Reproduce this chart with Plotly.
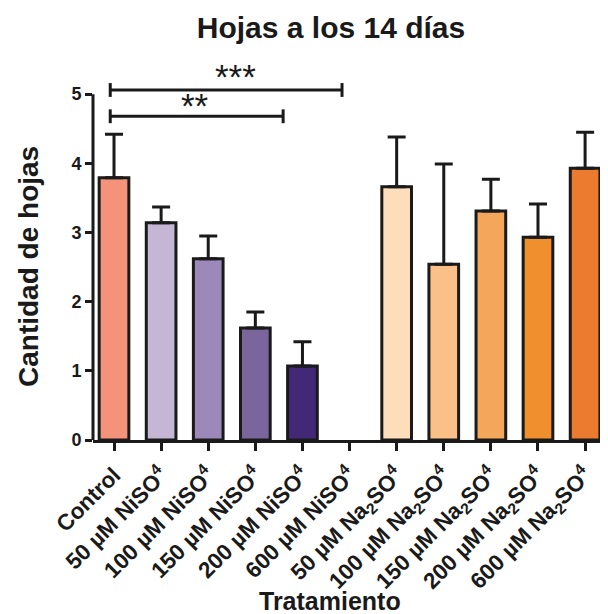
import plotly.graph_objects as go

categories = ["Control", "50 µM NiSO<sup>4</sup>", "100 µM NiSO<sup>4</sup>", "150 µM NiSO<sup>4</sup>",
              "200 µM NiSO<sup>4</sup>", "600 µM NiSO<sup>4</sup>",
              "50 µM Na<sub>2</sub>SO<sup>4</sup>", "100 µM Na<sub>2</sub>SO<sup>4</sup>",
              "150 µM Na<sub>2</sub>SO<sup>4</sup>", "200 µM Na<sub>2</sub>SO<sup>4</sup>",
              "600 µM Na<sub>2</sub>SO<sup>4</sup>"]
means = [3.79, 3.14, 2.62, 1.62, 1.07, 0.0, 3.66, 2.54, 3.31, 2.93, 3.93]
sem = [0.63, 0.23, 0.33, 0.23, 0.35, 0.0, 0.72, 1.45, 0.46, 0.48, 0.52]
colors = ["#F4937A", "#C5B6D6", "#9C89B9", "#7A669D", "#432877", "#FFFFFF",
          "#FEDDBA", "#FAC087", "#F4A65B", "#F08F2E", "#EC7A2F"]
y_ticks = [0, 1, 2, 3, 4, 5]

# significance brackets: (start x, end x, y level, label)
brackets = [(-0.08, 4.84, 5.06, "***"), (-0.08, 3.59, 4.68, "**")]
star_x = [2.57, 1.72]
star_y = [5.25, 4.83]

ink = "#1a1a1a"
font = "Arial, Liberation Sans, sans-serif"
x = list(range(len(categories)))
outline = [0 if m == 0 else 3 for m in means]
has_err = [i for i, e in enumerate(sem) if e > 0]

W, H = 600, 606  # page body margin of 8px shifts the figure

fig = go.Figure()
fig.add_trace(go.Bar(
    x=x, y=means, width=0.63,
    marker=dict(color=colors, line=dict(color=ink, width=outline)),
    showlegend=False,
))
# error bars (upper only) for the treatments with a non-zero error
fig.add_trace(go.Bar(
    x=[x[i] for i in has_err], y=[means[i] for i in has_err], width=0.63,
    marker=dict(color="rgba(0,0,0,0)", line=dict(width=0)),
    error_y=dict(type="data", symmetric=False, array=[sem[i] for i in has_err],
                 arrayminus=[0] * len(has_err), color=ink, thickness=3, width=9),
    showlegend=False, hoverinfo="skip",
))

shapes = [dict(type="line", xref="paper", yref="y", x0=0, x1=0, y0=0, y1=5,
               line=dict(color=ink, width=3))]
annotations = []
for (x0, x1, yl, lab), sx, sy in zip(brackets, star_x, star_y):
    shapes.append(dict(type="line", xref="x", yref="y", x0=x0, x1=x1, y0=yl, y1=yl,
                       line=dict(color=ink, width=3)))
    for xe in (x0, x1):
        shapes.append(dict(type="line", xref="x", yref="y", x0=xe, x1=xe, y0=yl - 0.1, y1=yl + 0.1,
                           line=dict(color=ink, width=3)))
    annotations.append(dict(x=sx, y=sy, xref="x", yref="y", text=lab, showarrow=False,
                            yanchor="middle", font=dict(family=font, size=35, color=ink)))

annotations.append(dict(text="Cantidad de hojas", textangle=-90, xref="paper", yref="paper",
                        x=-0.1275, y=0.4615, xanchor="center", yanchor="middle", showarrow=False,
                        font=dict(family=font, size=28, color=ink, weight="bold")))
annotations.append(dict(text="Tratamiento", xref="paper", yref="paper",
                        x=0.465, y=-0.427, xanchor="center", yanchor="middle", showarrow=False,
                        font=dict(family=font, size=25, color=ink, weight="bold")))

fig.update_layout(
    width=W, height=H, barmode="overlay",
    margin=dict(l=85, r=5, t=55, b=174, autoexpand=False),
    paper_bgcolor="white", plot_bgcolor="white",
    title=dict(text="Hojas a los 14 días", x=323 / W, y=1 - 19.5 / H, xref="container",
               yref="container", xanchor="center", yanchor="middle",
               font=dict(family=font, size=30, color=ink, weight="bold")),
    shapes=shapes, annotations=annotations,
)
fig.update_xaxes(range=[-0.446, 10.38], tickmode="array", tickvals=x, ticktext=categories,
                 tickangle=-45, ticks="outside", ticklen=8, tickwidth=3, tickcolor=ink,
                 showline=True, linecolor=ink, linewidth=3, showgrid=False, zeroline=False,
                 automargin=False, ticklabelstandoff=2,
                 tickfont=dict(family=font, size=22.5, color=ink, weight="bold"))
fig.update_yaxes(range=[0, 5.45], tickmode="array", tickvals=y_ticks, ticks="outside",
                 ticklen=7, tickwidth=3, tickcolor=ink, showline=False, showgrid=False,
                 zeroline=False, automargin=False,
                 tickfont=dict(family=font, size=18, color=ink, weight="bold"))

fig.write_html("out.html")
